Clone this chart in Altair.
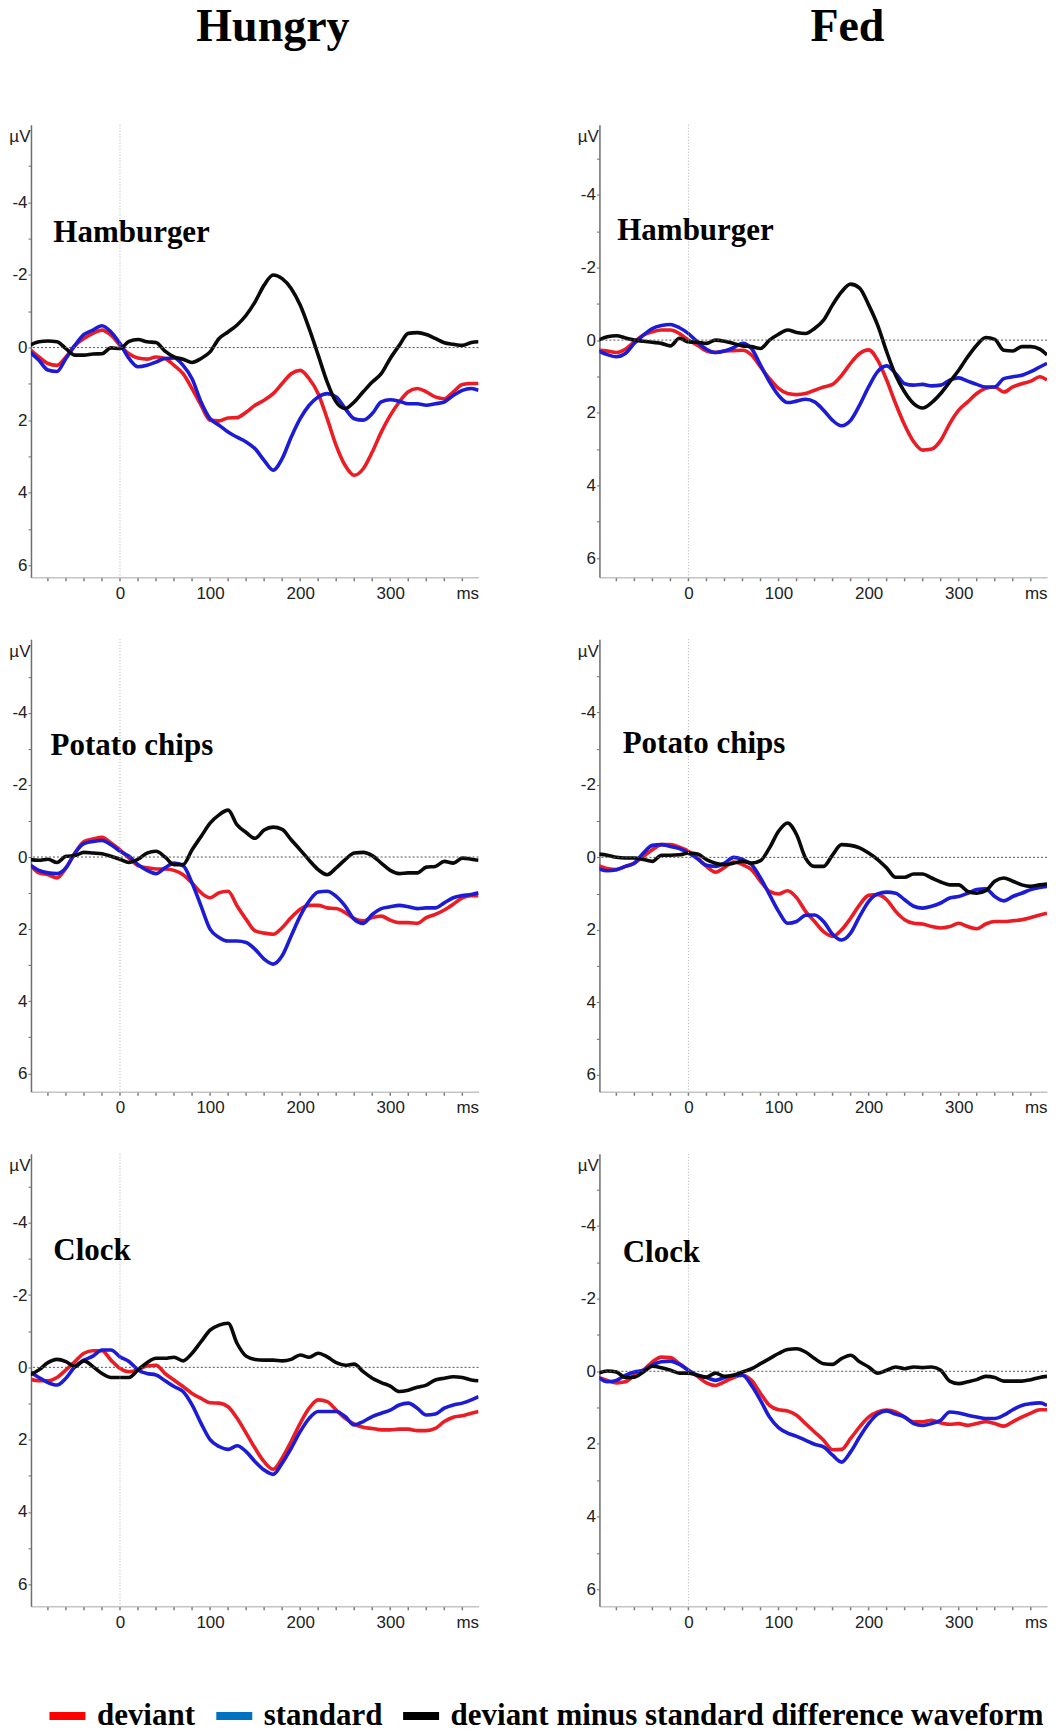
import altair as alt
import pandas as pd

# ---------------- data ----------------
T = list(range(-100, 400, 10)) + [398]   # ms

H_HAM_DEV = [0.05,0.26,0.44,0.49,0.26,-0.06,-0.25,-0.39,-0.48,-0.34,-0.06,0.17,0.29,0.32,0.26,0.30,0.49,0.72,1.13,1.59,2.0,2.02,1.94,1.93,1.78,1.59,1.45,1.27,0.99,0.72,0.63,0.86,1.27,1.96,2.7,3.25,3.52,3.34,2.88,2.33,1.87,1.5,1.22,1.13,1.22,1.36,1.41,1.22,1.02,0.99,0.99]
H_HAM_STD = [0.12,0.35,0.62,0.66,0.30,-0.06,-0.36,-0.48,-0.6,-0.43,-0.11,0.30,0.53,0.49,0.40,0.30,0.29,0.49,0.86,1.5,1.96,2.14,2.33,2.47,2.6,2.79,3.11,3.38,3.06,2.47,1.96,1.59,1.36,1.27,1.36,1.68,1.96,2.0,1.82,1.5,1.44,1.48,1.55,1.55,1.59,1.55,1.5,1.32,1.18,1.13,1.18]
H_HAM_DIF = [-0.06,-0.16,-0.18,-0.16,0.03,0.21,0.21,0.18,0.17,0.01,0.03,-0.17,-0.22,-0.16,-0.14,0.1,0.26,0.32,0.41,0.3,0.12,-0.25,-0.43,-0.62,-0.89,-1.26,-1.72,-2.0,-1.9,-1.63,-1.17,-0.52,0.21,0.95,1.5,1.68,1.5,1.22,0.95,0.72,0.3,-0.06,-0.39,-0.41,-0.36,-0.25,-0.13,-0.09,-0.06,-0.14,-0.16]

F_HAM_DEV = [0.28,0.3,0.34,0.25,0.05,-0.14,-0.23,-0.28,-0.28,-0.18,0.0,0.14,0.3,0.34,0.3,0.29,0.28,0.41,0.74,1.06,1.33,1.47,1.5,1.47,1.38,1.29,1.22,0.97,0.64,0.37,0.27,0.55,1.1,1.75,2.34,2.8,3.03,3.0,2.76,2.3,1.93,1.7,1.47,1.33,1.29,1.43,1.29,1.2,1.13,1.01,1.1]
F_HAM_STD = [0.3,0.4,0.46,0.37,0.09,-0.14,-0.32,-0.4,-0.43,-0.34,-0.18,0.05,0.25,0.34,0.3,0.21,0.09,0.23,0.69,1.15,1.52,1.72,1.68,1.63,1.7,1.93,2.21,2.36,2.21,1.79,1.29,0.87,0.71,0.92,1.2,1.24,1.22,1.26,1.24,1.1,1.04,1.13,1.22,1.29,1.29,1.06,1.01,0.97,0.87,0.74,0.64]
F_HAM_DIF = [0.0,-0.09,-0.12,-0.06,0.0,0.03,0.06,0.09,0.16,-0.05,0.05,0.06,0.09,0.0,0.03,0.09,0.16,0.18,0.23,0.0,-0.16,-0.28,-0.21,-0.18,-0.32,-0.55,-0.97,-1.33,-1.54,-1.43,-0.97,-0.41,0.32,0.97,1.43,1.75,1.87,1.72,1.47,1.15,0.83,0.46,0.14,-0.07,-0.02,0.28,0.3,0.18,0.18,0.25,0.41]

H_CHI_DEV = [0.21,0.44,0.49,0.58,0.3,-0.11,-0.43,-0.5,-0.55,-0.39,-0.2,0.03,0.24,0.3,0.33,0.33,0.37,0.49,0.72,0.99,1.13,0.99,0.95,1.36,1.73,2.05,2.11,2.14,1.96,1.68,1.45,1.34,1.34,1.41,1.43,1.54,1.71,1.77,1.68,1.64,1.75,1.82,1.82,1.84,1.68,1.59,1.47,1.31,1.13,1.07,1.07]
H_CHI_STD = [0.21,0.37,0.44,0.46,0.3,-0.11,-0.37,-0.43,-0.46,-0.34,-0.16,-0.02,0.21,0.37,0.46,0.3,0.17,0.24,0.72,1.36,2.0,2.23,2.33,2.33,2.37,2.56,2.83,2.97,2.74,2.19,1.64,1.22,0.97,0.95,1.09,1.36,1.73,1.84,1.59,1.43,1.38,1.34,1.38,1.43,1.41,1.41,1.27,1.13,1.07,1.04,0.99]
H_CHI_DIF = [0.07,0.09,0.06,0.15,-0.02,-0.04,-0.13,-0.11,-0.09,-0.02,0.06,0.15,0.06,-0.11,-0.16,0.0,0.21,0.21,-0.2,-0.57,-0.94,-1.17,-1.3,-0.89,-0.68,-0.52,-0.75,-0.83,-0.77,-0.48,-0.2,0.09,0.35,0.49,0.3,0.07,-0.11,-0.13,-0.04,0.17,0.37,0.46,0.44,0.44,0.28,0.26,0.12,0.17,0.03,0.06,0.09]

F_CHI_DEV = [0.22,0.31,0.34,0.25,0.16,-0.03,-0.21,-0.35,-0.35,-0.28,-0.17,0.02,0.25,0.41,0.28,0.13,0.2,0.34,0.66,0.94,1.01,0.92,1.11,1.49,1.77,2.05,2.18,2.0,1.68,1.31,1.05,1.03,1.17,1.49,1.72,1.82,1.84,1.91,1.95,1.91,1.82,1.91,1.97,1.84,1.77,1.77,1.75,1.72,1.66,1.59,1.54]
F_CHI_STD = [0.31,0.37,0.34,0.25,0.16,-0.12,-0.33,-0.35,-0.3,-0.24,-0.12,0.04,0.22,0.25,0.16,0.0,0.06,0.2,0.57,1.03,1.49,1.82,1.77,1.6,1.59,1.77,2.12,2.28,2.09,1.63,1.22,1.01,0.96,0.99,1.17,1.35,1.4,1.35,1.26,1.12,1.08,0.99,0.89,0.87,1.08,1.2,1.08,0.99,0.89,0.83,0.8]
F_CHI_DIF = [-0.09,-0.06,0.0,0.02,0.02,0.06,0.11,-0.06,-0.06,-0.07,-0.12,-0.09,0.06,0.16,0.2,0.16,0.11,0.16,0.09,-0.26,-0.72,-0.95,-0.63,0.02,0.25,0.25,-0.07,-0.35,-0.33,-0.26,-0.12,0.06,0.29,0.55,0.55,0.46,0.46,0.57,0.68,0.76,0.76,0.94,0.99,0.92,0.66,0.57,0.66,0.76,0.8,0.76,0.74]

H_CLO_DEV = [0.33,0.37,0.37,0.28,0.07,-0.16,-0.39,-0.46,-0.46,-0.2,0.03,0.12,0.07,-0.04,-0.06,0.17,0.35,0.53,0.72,0.86,0.98,0.99,1.09,1.41,1.82,2.24,2.61,2.82,2.51,2.05,1.55,1.13,0.9,0.95,1.18,1.41,1.57,1.66,1.69,1.73,1.73,1.71,1.71,1.75,1.75,1.69,1.5,1.38,1.34,1.27,1.22]
H_CLO_STD = [0.12,0.28,0.42,0.49,0.3,-0.02,-0.2,-0.31,-0.48,-0.48,-0.29,-0.16,0.07,0.17,0.21,0.37,0.53,0.67,1.04,1.55,2.0,2.19,2.27,2.17,2.33,2.61,2.84,2.96,2.65,2.24,1.78,1.41,1.22,1.22,1.22,1.36,1.59,1.5,1.36,1.27,1.18,1.04,0.99,1.13,1.32,1.29,1.13,1.04,0.99,0.9,0.81]
H_CLO_DIF = [0.21,0.07,-0.13,-0.22,-0.16,-0.02,-0.18,-0.02,0.17,0.28,0.28,0.28,0.07,-0.13,-0.25,-0.25,-0.28,-0.18,-0.39,-0.71,-1.03,-1.17,-1.22,-0.66,-0.31,-0.22,-0.2,-0.2,-0.18,-0.22,-0.34,-0.28,-0.39,-0.29,-0.13,-0.06,-0.09,0.12,0.3,0.42,0.52,0.67,0.63,0.55,0.49,0.35,0.3,0.26,0.28,0.35,0.37]

F_CLO_DEV = [0.17,0.25,0.32,0.29,0.11,-0.03,-0.26,-0.39,-0.38,-0.21,-0.03,0.14,0.32,0.39,0.29,0.17,0.11,0.25,0.61,0.94,1.06,1.09,1.21,1.44,1.67,1.9,2.16,2.15,1.85,1.53,1.26,1.12,1.07,1.12,1.26,1.39,1.39,1.35,1.42,1.46,1.44,1.49,1.44,1.39,1.44,1.51,1.39,1.26,1.15,1.06,1.06]
F_CLO_STD = [0.17,0.29,0.25,0.11,0.02,-0.03,-0.17,-0.26,-0.28,-0.19,-0.03,0.11,0.17,0.25,0.17,0.11,0.11,0.39,0.8,1.26,1.55,1.7,1.79,1.9,2.01,2.08,2.31,2.5,2.22,1.81,1.44,1.18,1.09,1.18,1.26,1.44,1.49,1.44,1.35,1.12,1.15,1.21,1.26,1.3,1.3,1.21,1.06,0.94,0.89,0.87,0.94]
F_CLO_DIF = [0.05,-0.01,0.02,0.17,0.16,0.02,-0.14,-0.1,-0.03,0.05,0.05,0.11,0.16,0.05,0.14,0.11,0.02,-0.07,-0.21,-0.35,-0.49,-0.6,-0.62,-0.53,-0.35,-0.21,-0.19,-0.35,-0.44,-0.26,-0.12,0.05,-0.03,-0.12,-0.07,-0.12,-0.1,-0.12,-0.03,0.27,0.34,0.29,0.23,0.14,0.17,0.27,0.27,0.27,0.23,0.17,0.14]

COLUMNS = ["Hungry", "Fed"]
PANEL_LABELS = ["Hamburger", "Hamburger", "Potato chips", "Potato chips", "Clock", "Clock"]
LABEL_X = [-74, -79, -77, -73, -74, -73]          # ms
LABEL_Y = [-2.92, -2.76, -2.82, -2.88, -2.96, -3.0]  # µV
Y_DOMAINS = [[-6.14, 6.33], [-5.93, 6.53], [-6.04, 6.51], [-6.02, 6.47], [-5.91, 6.61], [-5.99, 6.47]]
X_DOMAIN = [-98.8, 398]
SERIES = ["deviant", "standard", "diff"]
LEGEND_NAMES = ["deviant", "standard", "deviant minus standard difference waveform"]
LINE_COLORS = {"deviant": "#ec1c24", "standard": "#1c1cd6", "diff": "#0a0a0a"}
LEGEND_COLORS = ["#ff0000", "#0070c0", "#000000"]
X_LABELS = [0, 100, 200, 300]
X_TICKS = list(range(-80, 400, 20))
Y_TICKS = list(range(-5, 7))

PANELS = [
    (H_HAM_DEV, H_HAM_STD, H_HAM_DIF),
    (F_HAM_DEV, F_HAM_STD, F_HAM_DIF),
    (H_CHI_DEV, H_CHI_STD, H_CHI_DIF),
    (F_CHI_DEV, F_CHI_STD, F_CHI_DIF),
    (H_CLO_DEV, H_CLO_STD, H_CLO_DIF),
    (F_CLO_DEV, F_CLO_STD, F_CLO_DIF),
]

W, H = 448, 453
SANS = "Liberation Sans"
SERIF = "Liberation Serif"


def panel(i):
    rows = []
    for s, vals in zip(SERIES, PANELS[i]):
        assert len(vals) == len(T), (i, s, len(vals))
        for t, v in zip(T, vals):
            rows.append({"t": t, "v": v, "series": s})
    df = pd.DataFrame(rows)
    lab_df = pd.DataFrame({"t": [LABEL_X[i]], "v": [LABEL_Y[i]], "label": [PANEL_LABELS[i]]})
    tick_df = pd.DataFrame({"t": X_TICKS})

    x_axis = alt.Axis(
        values=X_LABELS, grid=False, ticks=False, labelOverlap=False,
        labelExpr="toString(datum.value)",
        domainColor="#c4c4c4", domainWidth=1.5,
        labelFont=SANS, labelFontSize=17, labelColor="#222222", labelPadding=8,
        title="ms", titleFont=SANS, titleFontSize=17, titleFontWeight="normal",
        titleColor="#222222", titleX=W, titleY=21, titleAlign="right",
        titleBaseline="alphabetic",
    )
    y_axis = alt.Axis(
        values=Y_TICKS, grid=False, labelOverlap=False,
        labelExpr="(datum.value % 2 == 0) ? toString(datum.value) : ''",
        domainColor="#6e6e6e", domainWidth=1.5,
        tickColor="#6e6e6e", tickSize=3, tickWidth=1,
        labelFont=SANS, labelFontSize=17, labelColor="#222222", labelPadding=1,
        title="µV", titleFont=SANS, titleFontSize=17, titleFontWeight="normal",
        titleColor="#222222", titleAngle=0, titleX=-1, titleY=12,
        titleAlign="right", titleBaseline="middle",
    )
    xs = alt.Scale(domain=X_DOMAIN, nice=False, zero=False)
    ys = alt.Scale(domain=Y_DOMAINS[i], nice=False, zero=False, reverse=True)
    X = alt.X("t:Q", scale=xs, axis=x_axis)
    Y = alt.Y("v:Q", scale=ys, axis=y_axis)

    base = alt.Chart(df)
    lab = alt.Chart(lab_df)
    layers = []
    for s in SERIES:
        layers.append(
            base.transform_filter(alt.datum.series == s)
            .mark_line(color=LINE_COLORS[s], strokeWidth=3.6, interpolate="monotone", clip=True)
            .encode(x=X, y=Y)
        )
    zero_h = lab.mark_rule(color="#555555", strokeDash=[2, 2], strokeWidth=1).encode(y=alt.datum(0))
    zero_v = lab.mark_rule(color="#b0b0b0", strokeDash=[1, 2], strokeWidth=1).encode(x=alt.datum(0))
    minor = alt.Chart(tick_df).mark_tick(
        orient="vertical", size=3, thickness=1.5, color="#444444", yOffset=2.5
    ).encode(x=X, y=alt.datum(Y_DOMAINS[i][1]))
    label = lab.mark_text(
        align="left", baseline="alphabetic",
        font=SERIF, fontSize=31, fontWeight="bold", color="black",
    ).encode(x=X, y=Y, text="label:N")

    return alt.layer(*layers, zero_v, zero_h, minor, label).properties(width=W, height=H)


def col_title(text, dx):
    return alt.Title(text, font=SERIF, fontSize=46, fontWeight="bold", color="black",
                     anchor="middle", offset=73, dx=dx)


left = alt.vconcat(panel(0), panel(2), panel(4), spacing=37,
                   title=col_title(COLUMNS[0], 29))
right = alt.vconcat(panel(1), panel(3), panel(5), spacing=37,
                    title=col_title(COLUMNS[1], 35))
grid = alt.hconcat(left, right, spacing=97)

legend_chart = (
    alt.Chart(pd.DataFrame({"name": LEGEND_NAMES}))
    .transform_filter("false")
    .mark_square(filled=True, opacity=1)
    .encode(
        fill=alt.Fill(
            "name:N",
            scale=alt.Scale(domain=LEGEND_NAMES, range=LEGEND_COLORS),
            legend=alt.Legend(
                title=None, orient="none", legendX=21, legendY=70,
                direction="horizontal",
                symbolType="M-1.8,-0.4H1.8V0.4H-1.8Z", symbolSize=400,
                symbolStrokeWidth=0, symbolOpacity=1,
                labelFont=SERIF, labelFontSize=31, labelFontWeight="bold",
                labelColor="black", labelOffset=14, columnPadding=20,
                labelLimit=1000,
            ),
        )
    )
    .properties(width=1000, height=1)
)

chart = (
    alt.vconcat(grid, legend_chart, spacing=0)
    .resolve_scale(fill="independent")
    .resolve_legend(fill="independent")
    .properties(padding={"left": 0, "top": -5, "right": 0, "bottom": -4}, background="white")
    .configure_view(stroke=None)
)

chart.save("out.html", embed_options={"renderer": "svg", "actions": False})
